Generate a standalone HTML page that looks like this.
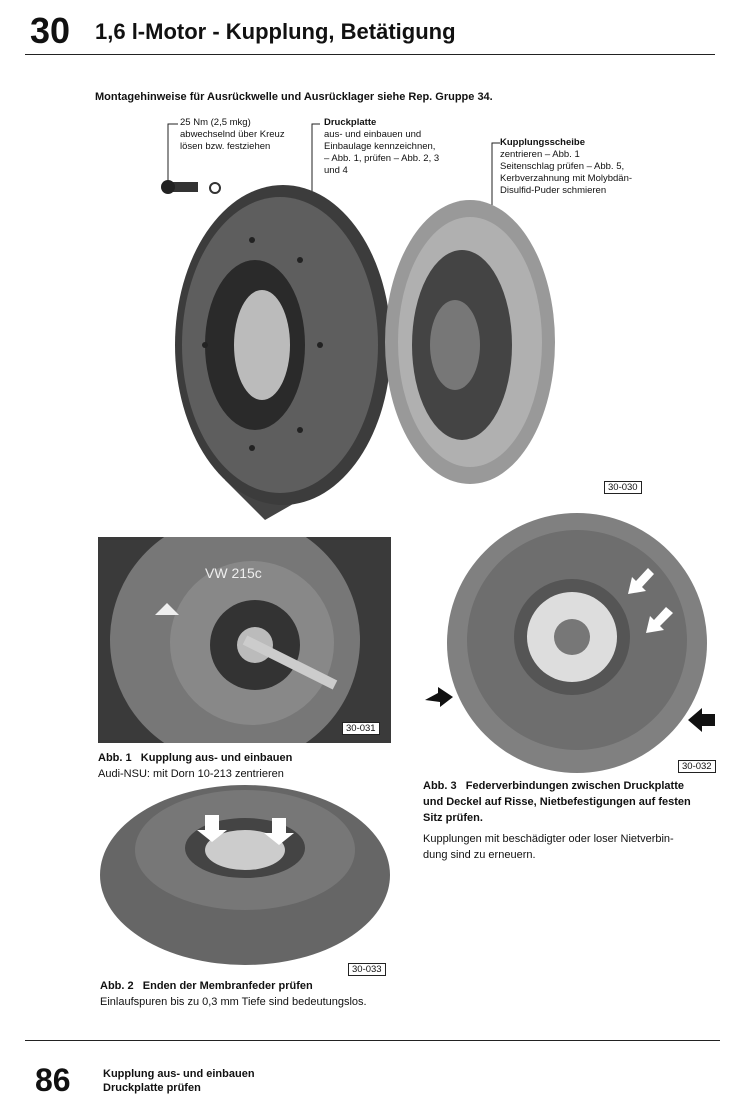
<!DOCTYPE html>
<html><head><meta charset="utf-8"><style>
*{margin:0;padding:0}
body{width:730px;height:1120px;background:#fff;position:relative;overflow:hidden;font-family:"Liberation Sans",sans-serif;color:#111}
.t{position:absolute;white-space:nowrap}
.s{font-size:9.5px;line-height:12px}
.c{font-size:11px;line-height:16px}
.box{position:absolute;border:1px solid #222;font-size:9.5px;padding:0 3px;line-height:11px}
svg{position:absolute;left:0;top:0}
</style></head><body>
<div class="t" style="left:30px;top:10px;font-size:36px;font-weight:bold">30</div>
<div class="t" style="left:95px;top:19px;font-size:22px;font-weight:bold">1,6 l-Motor - Kupplung, Betätigung</div>
<div style="position:absolute;left:25px;top:54px;width:690px;height:1px;background:#222"></div>
<div class="t" style="left:95px;top:91px;font-size:11px;font-weight:bold">Montagehinweise für Ausrückwelle und Ausrücklager siehe Rep. Gruppe 34.</div>
<div class="t s" style="left:180px;top:117px">25 Nm (2,5 mkg)<br>abwechselnd über Kreuz<br>lösen bzw. festziehen</div>
<div class="t s" style="left:324px;top:117px"><b>Druckplatte</b><br>aus- und einbauen und<br>Einbaulage kennzeichnen,<br>– Abb. 1, prüfen – Abb. 2, 3<br>und 4</div>
<div class="t s" style="left:500px;top:137px"><b>Kupplungsscheibe</b><br>zentrieren – Abb. 1<br>Seitenschlag prüfen – Abb. 5,<br>Kerbverzahnung mit Molybdän-<br>Disulfid-Puder schmieren</div>
<svg width="730" height="1120">
<defs><clipPath id="c1"><rect x="98" y="537" width="293" height="206"/></clipPath></defs>
<g stroke="#222" fill="none" stroke-width="1">
<path d="M178 124 H168 V182"/><path d="M320 124 H312 V196"/><path d="M500 143 H492 V205"/>
</g>
<rect x="168" y="182" width="30" height="10" fill="#333"/><circle cx="168" cy="187" r="7" fill="#222"/><circle cx="215" cy="188" r="5" fill="none" stroke="#333" stroke-width="2"/>
<path d="M225 480 L265 520 L300 500 L340 470 Z" fill="#444"/>
<ellipse cx="283" cy="345" rx="108" ry="160" fill="#3c3c3c"/>
<ellipse cx="280" cy="345" rx="98" ry="148" fill="#5e5e5e"/>
<ellipse cx="255" cy="345" rx="50" ry="85" fill="#2a2a2a"/>
<ellipse cx="262" cy="345" rx="28" ry="55" fill="#bbb"/>
<g fill="#222"><circle cx="252" cy="240" r="3"/><circle cx="300" cy="260" r="3"/><circle cx="320" cy="345" r="3"/><circle cx="300" cy="430" r="3"/><circle cx="252" cy="448" r="3"/><circle cx="205" cy="345" r="3"/></g>
<ellipse cx="470" cy="342" rx="85" ry="142" fill="#999"/>
<ellipse cx="470" cy="342" rx="72" ry="125" fill="#b0b0b0"/>
<ellipse cx="462" cy="345" rx="50" ry="95" fill="#444"/>
<ellipse cx="455" cy="345" rx="25" ry="45" fill="#777"/>
<g clip-path="url(#c1)">
<rect x="98" y="537" width="293" height="206" fill="#3a3a3a"/>
<circle cx="235" cy="640" r="125" fill="#777"/>
<circle cx="252" cy="643" r="82" fill="#888"/>
<circle cx="255" cy="645" r="45" fill="#333"/>
<circle cx="255" cy="645" r="18" fill="#bbb"/>
<line x1="245" y1="640" x2="335" y2="685" stroke="#ccc" stroke-width="10"/>
<path d="M155 615 l12 -12 l12 12 z" fill="#eee"/>
<text x="205" y="578" font-family="Liberation Sans" font-size="14" fill="#eee">VW 215c</text>
</g>
<circle cx="577" cy="643" r="130" fill="#808080"/>
<circle cx="577" cy="640" r="110" fill="#6e6e6e"/>
<circle cx="572" cy="637" r="58" fill="#555"/>
<circle cx="572" cy="637" r="45" fill="#ddd"/>
<circle cx="572" cy="637" r="18" fill="#777"/>
<polygon points="425,700 438,693 438,687 453,697 440,707 440,702" fill="#111"/>
<polygon points="688,720 702,708 702,714 715,714 715,726 702,726 702,732" fill="#111"/>
<polygon points="628,588 640,575 636,571 654,568 650,585 646,581 634,594" transform="rotate(180 641 581)" fill="#fff"/>
<polygon points="647,627 660,614 656,610 674,607 670,624 666,620 654,633" transform="rotate(180 660 620)" fill="#fff"/>
<ellipse cx="245" cy="875" rx="145" ry="90" fill="#666"/>
<ellipse cx="245" cy="850" rx="110" ry="60" fill="#777"/>
<ellipse cx="245" cy="848" rx="60" ry="30" fill="#444"/>
<ellipse cx="245" cy="850" rx="40" ry="20" fill="#ccc"/>
<path d="M205 815 h14 v15 h8 l-15 12 l-15 -12 h8 z M272 818 h14 v15 h8 l-15 12 l-15 -12 h8 z" fill="#fff"/>
</svg>
<div class="box" style="left:604px;top:481px">30-030</div>
<div class="box" style="left:342px;top:722px;background:#fff">30-031</div>
<div class="box" style="left:678px;top:760px">30-032</div>
<div class="box" style="left:348px;top:963px">30-033</div>
<div class="t c" style="left:98px;top:750px"><b>Abb. 1 &nbsp; Kupplung aus- und einbauen</b><br>Audi-NSU: mit Dorn 10-213 zentrieren</div>
<div class="t c" style="left:423px;top:778px;font-weight:bold">Abb. 3 &nbsp; Federverbindungen zwischen Druckplatte<br>und Deckel auf Risse, Nietbefestigungen auf festen<br>Sitz prüfen.</div>
<div class="t c" style="left:423px;top:831px">Kupplungen mit beschädigter oder loser Nietverbin-<br>dung sind zu erneuern.</div>
<div class="t c" style="left:100px;top:978px"><b>Abb. 2 &nbsp; Enden der Membranfeder prüfen</b><br>Einlaufspuren bis zu 0,3 mm Tiefe sind bedeutungslos.</div>
<div style="position:absolute;left:25px;top:1040px;width:695px;height:1px;background:#222"></div>
<div class="t" style="left:35px;top:1062px;font-size:32px;font-weight:bold">86</div>
<div class="t" style="left:103px;top:1067px;font-size:11px;line-height:14px;font-weight:bold">Kupplung aus- und einbauen<br>Druckplatte prüfen</div>
</body></html>
